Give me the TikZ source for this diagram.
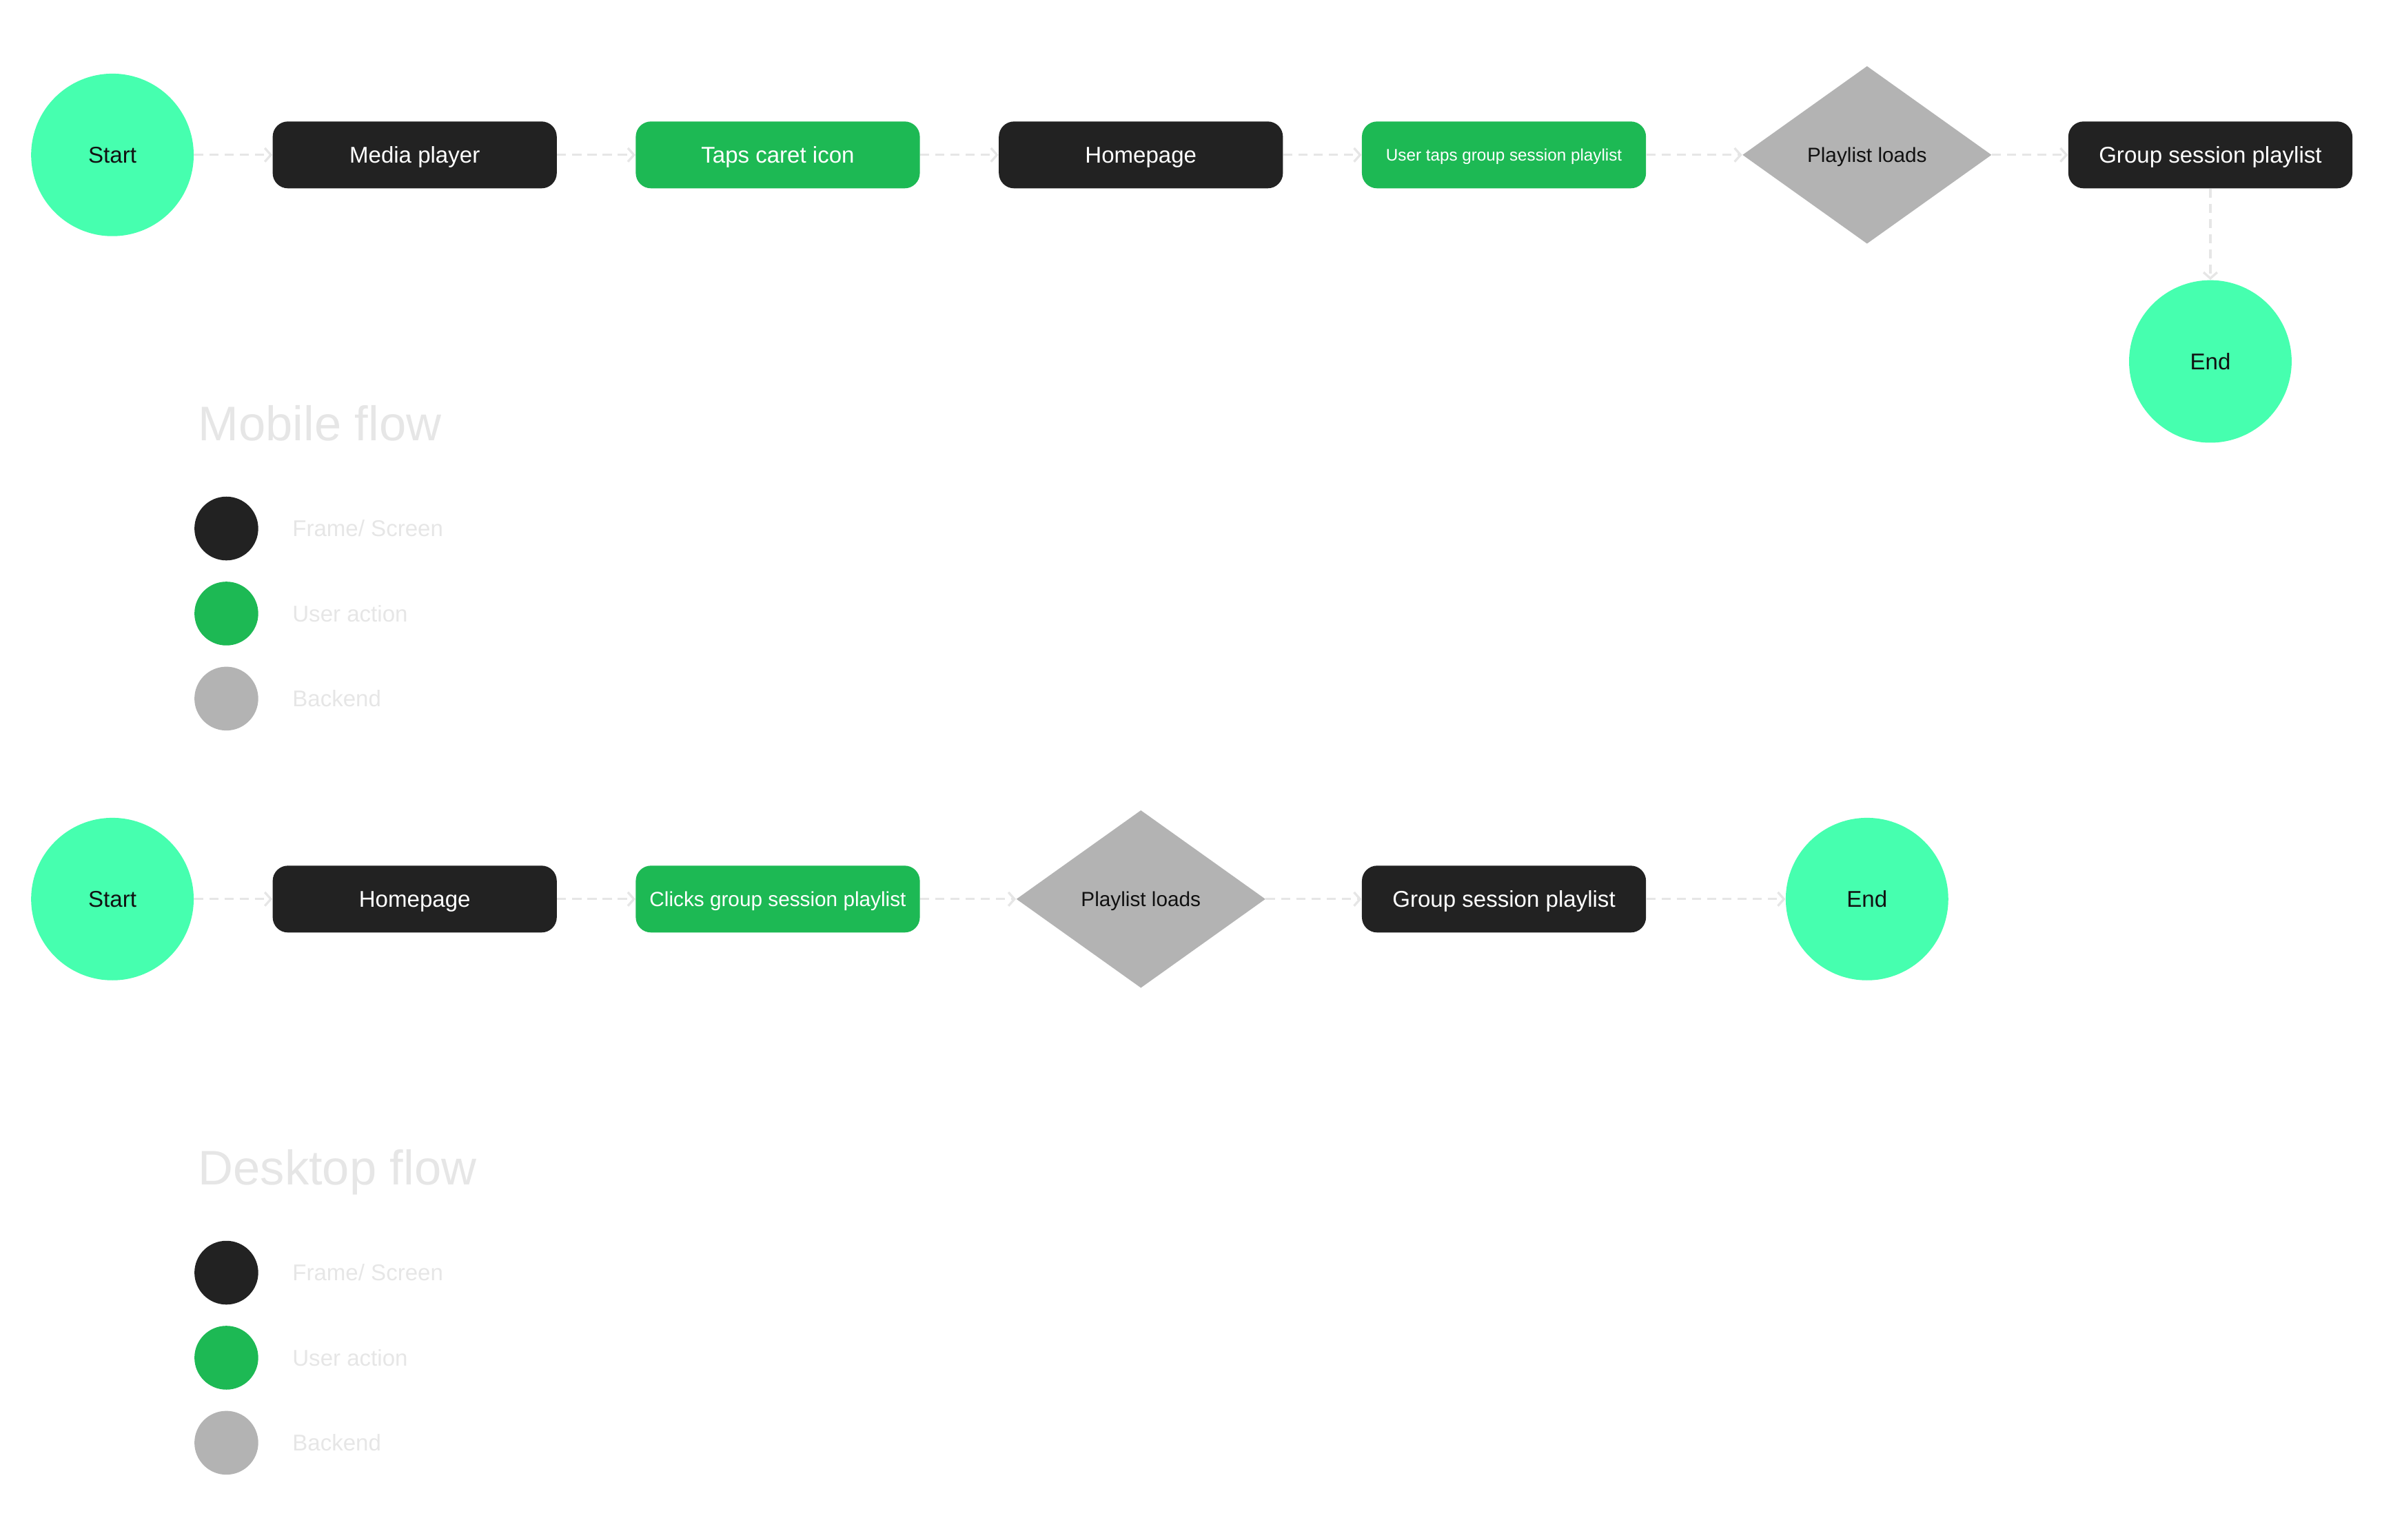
\documentclass[tikz,border=0pt]{standalone}
\usepackage{fontspec}
\setmainfont{Liberation Sans}
\usetikzlibrary{positioning, arrows.meta, shapes.geometric}
\definecolor{myDark}{HTML}{222222}
\definecolor{myGreen}{HTML}{1DB954}
\definecolor{myMint}{HTML}{46FFAF}
\definecolor{myGray}{HTML}{B3B3B3}
\definecolor{myLight}{HTML}{E6E6E6}
\definecolor{myInk}{HTML}{111111}

\begin{document}
\begin{tikzpicture}[
  x=1pt, y=-1pt,
  termnode/.style={circle, fill=myMint, minimum size=107pt, inner sep=0pt,
    text=myInk, text height=11pt, text depth=0pt, font=\fontsize{15}{18}\selectfont},
  screenbox/.style={rectangle, rounded corners=10pt, fill=myDark, text=white,
    minimum width=187pt, minimum height=44pt, inner sep=0pt,
    text height=11pt, text depth=0pt, font=\fontsize{15}{18}\selectfont},
  actionbox/.style={screenbox, fill=myGreen},
  backendbox/.style={diamond, fill=myGray, text=myInk, aspect=1.4,
    minimum width=164pt, minimum height=117pt, inner sep=0pt,
    text height=10pt, text depth=0pt, font=\fontsize{13.5}{16}\selectfont},
  flowline/.style={draw=myLight, line width=1.5pt, dash pattern=on 6pt off 4pt,
    -{Straight Barb[length=4pt, width=9pt]}},
  legdot/.style={circle, minimum size=42pt, inner sep=0pt},
  legtext/.style={anchor=west, text=myLight, font=\fontsize{15}{18}\selectfont},
  flowtitle/.style={anchor=base west, text=myLight, font=\fontsize{32}{38}\selectfont},
]
  \useasboundingbox (0,0) rectangle (1568,1014);

  % mobile flow
  \node[termnode] (mStart) at (74,102) {Start};
  \node[screenbox] (mMedia) at (273,102) {Media player};
  \node[actionbox] (mCaret) at (512,102) {Taps caret icon};
  \node[screenbox] (mHome) at (751,102) {Homepage};
  \node[actionbox, text height=8pt, font=\fontsize{11}{13}\selectfont] (mTaps)
    at (990,102) {User taps group session playlist};
  \node[backendbox] (mLoads) at (1229,102) {Playlist loads};
  \node[screenbox] (mGroup) at (1455,102) {Group session playlist};
  \node[termnode] (mEnd) at (1455,238) {End};

  \draw[flowline] (mStart) -- (mMedia);
  \draw[flowline] (mMedia) -- (mCaret);
  \draw[flowline] (mCaret) -- (mHome);
  \draw[flowline] (mHome) -- (mTaps);
  \draw[flowline] (mTaps) -- (mLoads);
  \draw[flowline] (mLoads) -- (mGroup);
  \draw[flowline] (mGroup) -- (mEnd);

  % mobile legend
  \node[flowtitle] (mTitle) at (127,290) {Mobile flow};
  \node[legdot, fill=myDark] (mKeyScreen) at (149,348) {};
  \node[legtext] at (189,348) {Frame/ Screen};
  \node[legdot, fill=myGreen] (mKeyAction) at (149,404) {};
  \node[legtext] at (189,404) {User action};
  \node[legdot, fill=myGray] (mKeyBackend) at (149,460) {};
  \node[legtext] at (189,460) {Backend};

  % desktop flow
  \node[termnode] (dStart) at (74,592) {Start};
  \node[screenbox] (dHome) at (273,592) {Homepage};
  \node[actionbox, text height=10pt, font=\fontsize{13.5}{16}\selectfont] (dClicks)
    at (512,592) {Clicks group session playlist};
  \node[backendbox] (dLoads) at (751,592) {Playlist loads};
  \node[screenbox] (dGroup) at (990,592) {Group session playlist};
  \node[termnode] (dEnd) at (1229,592) {End};

  \draw[flowline] (dStart) -- (dHome);
  \draw[flowline] (dHome) -- (dClicks);
  \draw[flowline] (dClicks) -- (dLoads);
  \draw[flowline] (dLoads) -- (dGroup);
  \draw[flowline] (dGroup) -- (dEnd);

  % desktop legend
  \node[flowtitle] (dTitle) at (127,780) {Desktop flow};
  \node[legdot, fill=myDark] (dKeyScreen) at (149,838) {};
  \node[legtext] at (189,838) {Frame/ Screen};
  \node[legdot, fill=myGreen] (dKeyAction) at (149,894) {};
  \node[legtext] at (189,894) {User action};
  \node[legdot, fill=myGray] (dKeyBackend) at (149,950) {};
  \node[legtext] at (189,950) {Backend};
\end{tikzpicture}
\end{document}
